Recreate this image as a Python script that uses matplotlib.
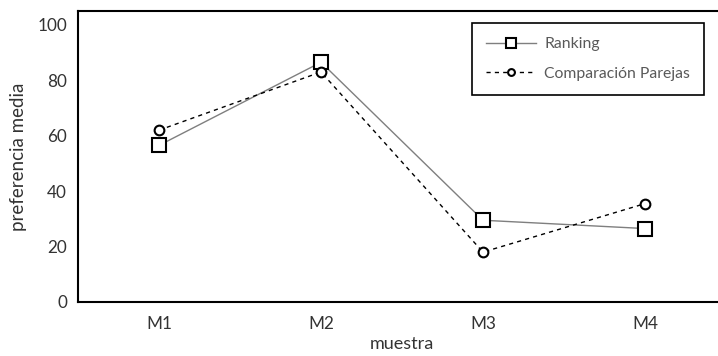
import numpy as np
import matplotlib
matplotlib.use("Agg")
from matplotlib import pyplot as plt

# data
categories = ["M1", "M2", "M3", "M4"]
ranking = [56.5, 86.5, 29.5, 26.5]
parejas = [62.0, 83.0, 18.0, 35.5]
y_ticks = [0, 20, 40, 60, 80, 100]

plt.rcParams['font.family'] = ['Lato', 'DejaVu Sans']

fig = plt.figure(figsize=(7.18, 3.56), dpi=100)
# plot area runs past the right edge of the picture, as in the original
ax = fig.add_axes([78 / 718, 54 / 356, 648 / 718, 291 / 356])

x = np.arange(len(categories))
ax.plot(x, ranking, color="#7f7f7f", lw=1.0, marker="s", markersize=10,
        markerfacecolor="white", markeredgecolor="black", markeredgewidth=1.5,
        label="Ranking")
ax.plot(x, parejas, color="black", lw=1.0, ls=(0, (3, 3)), marker="o", markersize=7,
        markerfacecolor="white", markeredgecolor="black", markeredgewidth=1.5,
        label="Comparación Parejas")

ax.set_xlim(-0.5, 3.5)
ax.set_ylim(0, 105)
ax.set_xticks(x)
ax.set_xticklabels(categories)
ax.set_yticks(y_ticks)
ax.tick_params(length=0, labelsize=12.3, colors="#333333")
ax.tick_params(axis="x", pad=10)
ax.tick_params(axis="y", pad=8)

for side in ["left", "top", "bottom"]:
    ax.spines[side].set_linewidth(1.5)
    ax.spines[side].set_color("black")
ax.spines["right"].set_visible(False)

ax.set_xlabel("muestra", fontsize=13, color="#333333", labelpad=3)
ax.set_ylabel("preferencia media", fontsize=13.5, color="#333333", labelpad=7)

leg = ax.legend(loc="upper left", bbox_to_anchor=(394 / 648, 1 - 12 / 291),
                borderaxespad=0, fancybox=False, edgecolor="black", framealpha=1,
                fontsize=11.3, markerscale=0.7, handlelength=3.2,
                borderpad=0.9, labelspacing=1.0, handletextpad=0.5)
leg.get_frame().set_linewidth(1.2)
for t in leg.get_texts():
    t.set_color("#595959")

fig.savefig("out.png", dpi=100)
